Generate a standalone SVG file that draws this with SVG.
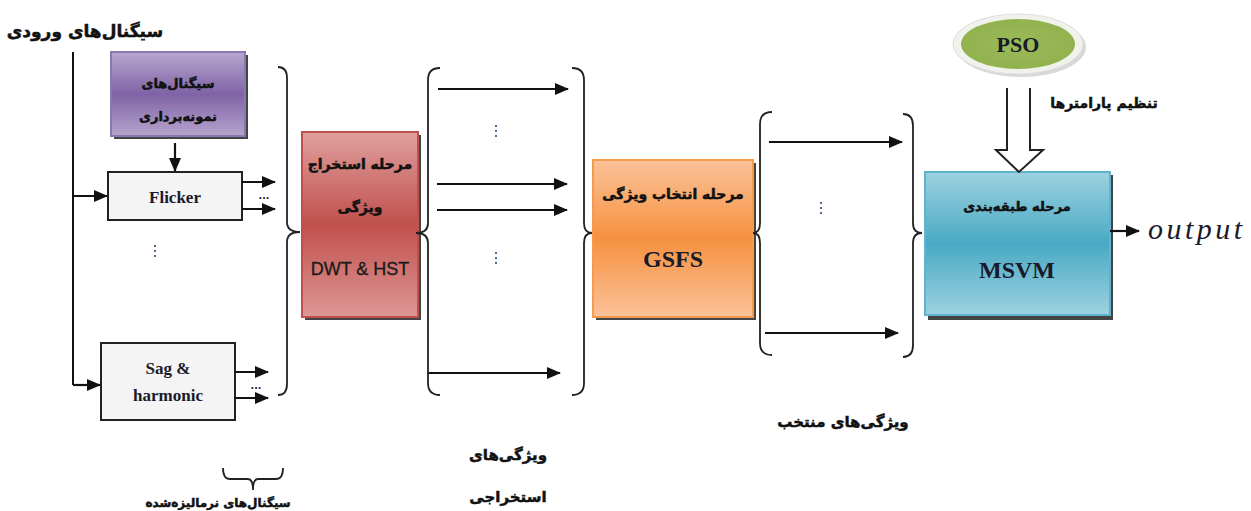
<svg xmlns="http://www.w3.org/2000/svg" width="1251" height="511" viewBox="0 0 1251 511">
<style>
.fa{font-family:"DejaVu Sans","Noto Sans",sans-serif;font-weight:bold;fill:#111;stroke:#111;stroke-width:0.5;}
.en{font-family:"Liberation Serif",serif;font-weight:bold;fill:#1a1a2a;}
.ln{stroke:#111;stroke-width:2;fill:none;}
.br{stroke:#222;stroke-width:1.8;fill:none;}
.ar{stroke:#111;stroke-width:2.2;fill:none;marker-end:url(#ah);}
.sh{fill:#444;}
</style>
<defs>
<marker id="ah" viewBox="0 0 14 12" refX="13" refY="6" markerWidth="14" markerHeight="12" markerUnits="userSpaceOnUse" orient="auto">
<path d="M0,0 L14,6 L0,12 Z" fill="#111"/>
</marker>
<linearGradient id="gp" x1="0" y1="0" x2="0" y2="1"><stop offset="0" stop-color="#b8a8cf"/><stop offset="0.5" stop-color="#7f63a6"/><stop offset="1" stop-color="#b6a4cd"/></linearGradient>
<linearGradient id="gr" x1="0" y1="0" x2="0" y2="1"><stop offset="0" stop-color="#e0a09e"/><stop offset="0.5" stop-color="#c0504d"/><stop offset="1" stop-color="#dd9896"/></linearGradient>
<linearGradient id="go" x1="0" y1="0" x2="0" y2="1"><stop offset="0" stop-color="#fbc299"/><stop offset="0.5" stop-color="#f6913f"/><stop offset="1" stop-color="#fbc299"/></linearGradient>
<linearGradient id="gb" x1="0" y1="0" x2="0" y2="1"><stop offset="0" stop-color="#9dd2e0"/><stop offset="0.5" stop-color="#49a9c4"/><stop offset="1" stop-color="#9dd2e0"/></linearGradient>
<radialGradient id="gg" cx="0.5" cy="0.5" r="0.6"><stop offset="0" stop-color="#9bbb59"/><stop offset="1" stop-color="#8fb04d"/></radialGradient>
</defs>

<text class="fa" x="85" y="37" font-size="17" text-anchor="middle" direction="rtl">سیگنال‌های ورودی</text>

<g id="sampling">
<rect x="114" y="55" width="134" height="84" class="sh" fill="#4b3a66"/>
<rect x="111" y="52" width="134" height="84" fill="url(#gp)" stroke="#8c78b0" stroke-width="2"/>
<text class="fa" x="178" y="88" font-size="13" text-anchor="middle" direction="rtl">سیگنال‌های</text>
<text class="fa" x="178" y="121" font-size="13" text-anchor="middle" direction="rtl">نمونه‌برداری</text>
</g>

<g id="flicker">
<rect x="108" y="172" width="134" height="48" fill="#f4f4f4" stroke="#222" stroke-width="2"/>
<text class="en" x="175" y="203" font-size="17" text-anchor="middle">Flicker</text>
</g>

<g id="sag">
<rect x="101" y="343" width="134" height="77" fill="#f4f4f4" stroke="#222" stroke-width="2"/>
<text class="en" x="168" y="374" font-size="17" text-anchor="middle">Sag &amp;</text>
<text class="en" x="168" y="401" font-size="17" text-anchor="middle">harmonic</text>
</g>

<g id="extraction">
<rect x="305" y="135" width="116" height="185" class="sh" fill="#8a3a38"/>
<rect x="302" y="132" width="116" height="185" fill="url(#gr)" stroke="#c0504d" stroke-width="2"/>
<text class="fa" x="360" y="169" font-size="14" text-anchor="middle" direction="rtl">مرحله استخراج</text>
<text class="fa" x="360" y="212" font-size="14" text-anchor="middle" direction="rtl">ویژگی</text>
<text x="360" y="275" font-size="18" text-anchor="middle" font-family="Liberation Sans, Arial, sans-serif" fill="#1a1a1a" stroke="#1a1a1a" stroke-width="0.3">DWT &amp; HST</text>
</g>

<g id="selection">
<rect x="596" y="163" width="160" height="157" class="sh" fill="#a85a20"/>
<rect x="593" y="160" width="160" height="157" fill="url(#go)" stroke="#f59a4e" stroke-width="2"/>
<text class="fa" x="673" y="199" font-size="14" text-anchor="middle" direction="rtl">مرحله انتخاب ویژگی</text>
<text class="en" x="673" y="267" font-size="24" text-anchor="middle">GSFS</text>
</g>

<g id="classification">
<rect x="928" y="175" width="185" height="145" class="sh" fill="#2f6f80"/>
<rect x="925" y="172" width="185" height="143" fill="url(#gb)" stroke="#5fb3cc" stroke-width="2"/>
<text class="fa" x="1017" y="211" font-size="13" text-anchor="middle" direction="rtl">مرحله طبقه‌بندی</text>
<text class="en" x="1017" y="278" font-size="24" text-anchor="middle">MSVM</text>
</g>

<g id="pso">
<ellipse cx="1021" cy="47" rx="65" ry="30" fill="#d8d8d8"/>
<ellipse cx="1018" cy="44" rx="65" ry="30" fill="#f2f2ec" stroke="#ddd" stroke-width="1"/>
<ellipse cx="1018" cy="44" rx="57" ry="25" fill="url(#gg)"/>
<text class="en" x="1018" y="52" font-size="22" text-anchor="middle">PSO</text>
</g>

<g id="connectors">
<path class="ln" d="M73,52 V385"/>
<path class="ar" d="M73,196 H107"/>
<path class="ar" d="M73,385 H100"/>
<path class="ar" d="M175,143 V171"/>
<path class="ar" d="M242,182 H275"/>
<path class="ar" d="M242,209 H275"/>
<path class="ar" d="M235,372 H268"/>
<path class="ar" d="M235,398 H268"/>
<path class="ar" d="M438,89 H568"/>
<path class="ar" d="M437,184 H567"/>
<path class="ar" d="M437,210 H567"/>
<path class="ar" d="M428,373 H560"/>
<path class="ar" d="M769,142 H902"/>
<path class="ar" d="M765,333 H898"/>
<path class="ar" d="M1110,231 H1139"/>
<path d="M1007,88 V150 H996 L1019,172 L1043,150 H1030 V88" fill="#fff" stroke="#222" stroke-width="2"/>
<path class="br" d="M278,67 Q287,67 287,78 V222 Q287,232 300,232 Q287,232 287,242 V384 Q287,395 278,395"/>
<path class="br" d="M440,68 Q428,68 428,80 V223 Q428,233 416,233 Q428,233 428,243 V383 Q428,395 440,395"/>
<path class="br" d="M572,68 Q584,68 584,80 V223 Q584,233 592,233 Q584,233 584,243 V383 Q584,395 572,395"/>
<path class="br" d="M772,112 Q760,112 760,124 V223 Q760,233 753,233 Q760,233 760,243 V343 Q760,355 772,355"/>
<path class="br" d="M903,114 Q913,114 913,126 V223 Q913,233 922,233 Q913,233 913,243 V345 Q913,357 903,357"/>
<path class="br" d="M223,468 Q223,479 230,479 H248 Q253,479 253,490 Q253,479 258,479 H276 Q283,479 283,468"/>
<g fill="#334" font-family="Liberation Sans, sans-serif" font-size="13" font-weight="bold">
<text x="264" y="199" text-anchor="middle">...</text>
<text x="256" y="389" text-anchor="middle">...</text>
</g>
<g fill="#4a6a90">
<rect x="154" y="245" width="2" height="2"/><rect x="154" y="250" width="2" height="2"/><rect x="154" y="255" width="2" height="2"/>
<rect x="495" y="125" width="2" height="2"/><rect x="495" y="130" width="2" height="2"/><rect x="495" y="135" width="2" height="2"/>
<rect x="495" y="252" width="2" height="2"/><rect x="495" y="257" width="2" height="2"/><rect x="495" y="262" width="2" height="2"/>
<rect x="820" y="202" width="2" height="2"/><rect x="820" y="207" width="2" height="2"/><rect x="820" y="212" width="2" height="2"/>
</g>
</g>

<text class="fa" x="1104" y="108" font-size="14" text-anchor="middle" direction="rtl">تنظیم پارامترها</text>
<text x="1148" y="239" font-size="30" font-style="italic" font-family="Liberation Serif, serif" fill="#1a1a2a" textLength="94" lengthAdjust="spacing">output</text>
<text class="fa" x="843" y="427" font-size="15" text-anchor="middle" direction="rtl">ویژگی‌های منتخب</text>
<text class="fa" x="508" y="460" font-size="15" text-anchor="middle" direction="rtl">ویژگی‌های</text>
<text class="fa" x="508" y="502" font-size="15" text-anchor="middle" direction="rtl">استخراجی</text>
<text class="fa" x="218" y="507" font-size="12" text-anchor="middle" direction="rtl">سیگنال‌های نرمالیزه‌شده</text>
</svg>
